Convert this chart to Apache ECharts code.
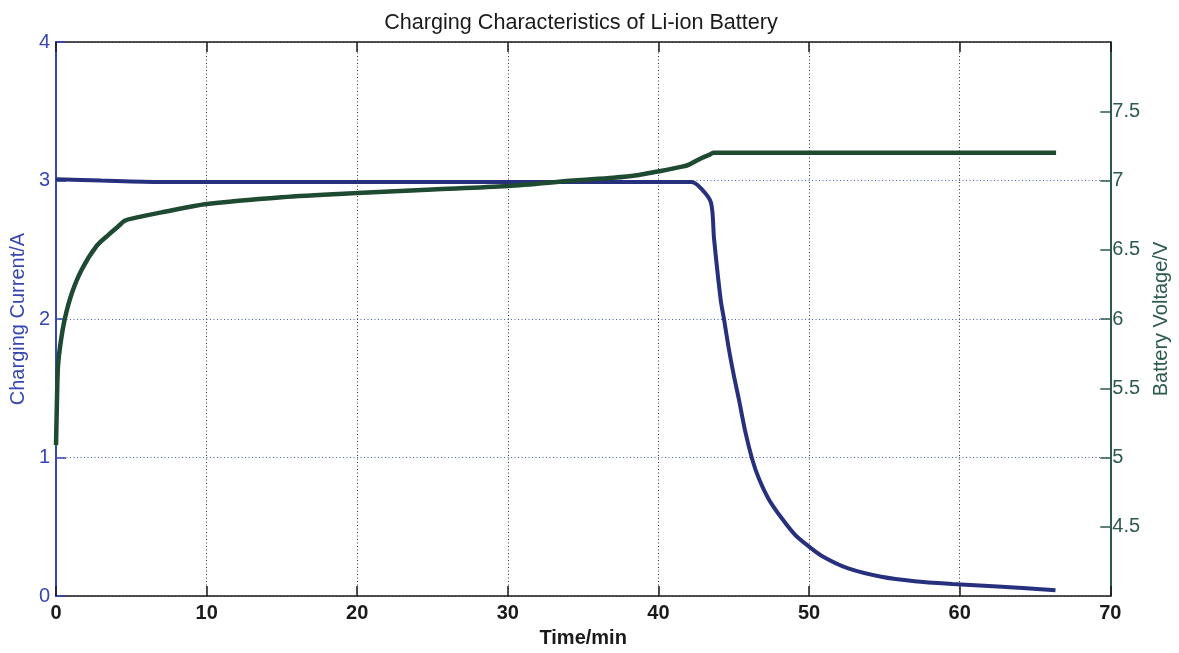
<!DOCTYPE html>
<html>
<head>
<meta charset="utf-8">
<title>Charging Characteristics of Li-ion Battery</title>
<script src="https://cdn.jsdelivr.net/npm/echarts@6/dist/echarts.min.js"></script>
<style>
  html, body { margin: 0; padding: 0; background: #ffffff; }
  #chart { width: 1179px; height: 653px; }
</style>
</head>
<body>
<div id="chart"></div>
<script>
// Charging current (A) sampled over time (min)
const currentTime = [0, 3, 7, 15, 25, 35, 42.2, 42.9, 43.49, 43.69, 44.13, 44.35, 44.68, 45.01, 45.34, 45.78, 46.22, 46.66, 47.32, 48.2, 49.09, 49.85, 50.85, 52.6, 54.8, 57.0, 59.5, 62.52, 66.36];
const currentValues = [3.01, 3.0, 2.99, 2.99, 2.99, 2.99, 2.99, 2.935, 2.84, 2.58, 2.14, 2.0, 1.78, 1.59, 1.42, 1.18, 0.99, 0.85, 0.70, 0.56, 0.44, 0.37, 0.29, 0.20, 0.14, 0.108, 0.088, 0.07, 0.043];

// Battery voltage (V) sampled over time (min)
const voltageTime = [0, 0.07, 0.13, 0.28, 0.58, 1.06, 1.72, 2.71, 3.5, 4.14, 4.56, 5.24, 7.0, 10, 15, 20, 25, 30, 34.4, 37, 38.7, 39.85, 41.57, 42.03, 42.9, 43.36, 43.65, 50, 60, 66.4];
const voltageValues = [5.09, 5.45, 5.66, 5.81, 6.0, 6.19, 6.36, 6.53, 6.61, 6.67, 6.71, 6.73, 6.77, 6.83, 6.88, 6.91, 6.935, 6.96, 7.0, 7.02, 7.04, 7.063, 7.10, 7.115, 7.165, 7.185, 7.20, 7.20, 7.20, 7.20];

// Axis ranges and tick steps
const timeRange = [0, 70, 10];
const currentRange = [0, 4, 1];
const voltageRange = [4, 8, 0.5];

const FONT = '"Liberation Sans", Arial, Helvetica, sans-serif';
const BLUE_AXIS = '#3647b0';
const GREEN_AXIS = '#2c5a4c';
const BLUE_LINE = '#27307c';
const GREEN_LINE = '#1f4a32';

const pair = (xs, ys) => xs.map((x, i) => [x, ys[i]]);

const chart = echarts.init(document.getElementById('chart'), null, { renderer: 'canvas' });

chart.setOption({
  backgroundColor: '#ffffff',
  animation: false,
  title: {
    text: 'Charging Characteristics of Li-ion Battery',
    left: 576,
    textAlign: 'center',
    top: 7,
    textStyle: { fontFamily: FONT, fontSize: 21.6, fontWeight: 'normal', color: '#1a1a1a' }
  },
  grid: { left: 54, right: 66, top: 42, bottom: 55, containLabel: false },
  xAxis: [
    {
      type: 'value',
      position: 'bottom',
      min: timeRange[0], max: timeRange[1], interval: timeRange[2],
      name: 'Time/min',
      nameLocation: 'middle',
      nameGap: 30,
      nameTextStyle: { fontFamily: FONT, fontSize: 20, fontWeight: 'bold', color: '#1a1a1a' },
      axisLine: { show: true, onZero: false, lineStyle: { color: '#1a1a1a', width: 1.5 } },
      axisTick: { show: true, inside: true, length: 10, lineStyle: { color: '#1a1a1a', width: 1.5 } },
      axisLabel: { fontFamily: FONT, fontSize: 20, fontWeight: 'bold', color: '#1a1a1a', margin: 7 },
      splitLine: { show: true, lineStyle: { color: '#333333', width: 1, type: [1, 2.5] } }
    },
    {
      type: 'value',
      position: 'top',
      min: timeRange[0], max: timeRange[1], interval: timeRange[2],
      axisLine: { show: true, onZero: false, lineStyle: { color: '#1a1a1a', width: 1.5 } },
      axisTick: { show: true, inside: true, length: 10, lineStyle: { color: '#1a1a1a', width: 1.5 } },
      axisLabel: { show: false },
      splitLine: { show: false }
    }
  ],
  yAxis: [
    {
      type: 'value',
      position: 'left',
      min: currentRange[0], max: currentRange[1], interval: currentRange[2],
      name: 'Charging Current/A',
      nameLocation: 'middle',
      nameGap: 26,
      nameRotate: 90,
      nameTextStyle: { fontFamily: FONT, fontSize: 20, color: BLUE_AXIS },
      axisLine: { show: true, onZero: false, lineStyle: { color: BLUE_AXIS, width: 2 } },
      axisTick: { show: true, inside: true, length: 10, lineStyle: { color: BLUE_AXIS, width: 1.5 } },
      axisLabel: { fontFamily: FONT, fontSize: 20, color: BLUE_AXIS, margin: 6 },
      splitLine: { show: true, lineStyle: { color: '#4a5cc0', width: 1, type: [1, 2.5] } }
    },
    {
      type: 'value',
      position: 'right',
      min: voltageRange[0], max: voltageRange[1], interval: voltageRange[2],
      name: 'Battery Voltage/V',
      nameLocation: 'middle',
      nameGap: 40,
      nameRotate: 90,
      nameTextStyle: { fontFamily: FONT, fontSize: 20, color: GREEN_AXIS },
      axisLine: { show: true, onZero: false, lineStyle: { color: GREEN_AXIS, width: 2 } },
      axisTick: { show: true, inside: true, length: 10, lineStyle: { color: GREEN_AXIS, width: 1.5 } },
      axisLabel: {
        fontFamily: FONT, fontSize: 20, color: GREEN_AXIS, margin: 2,
        showMinLabel: false, showMaxLabel: false
      },
      splitLine: { show: false }
    }
  ],
  series: [
    {
      name: 'Charging Current',
      type: 'line',
      xAxisIndex: 0,
      yAxisIndex: 0,
      data: pair(currentTime, currentValues),
      showSymbol: false,
      smooth: 0.3,
      lineStyle: { color: BLUE_LINE, width: 4 },
      z: 3
    },
    {
      name: 'Battery Voltage',
      type: 'line',
      xAxisIndex: 0,
      yAxisIndex: 1,
      data: pair(voltageTime, voltageValues),
      showSymbol: false,
      smooth: 0.3,
      lineStyle: { color: GREEN_LINE, width: 4.5 },
      z: 4
    }
  ]
});
</script>
</body>
</html>
